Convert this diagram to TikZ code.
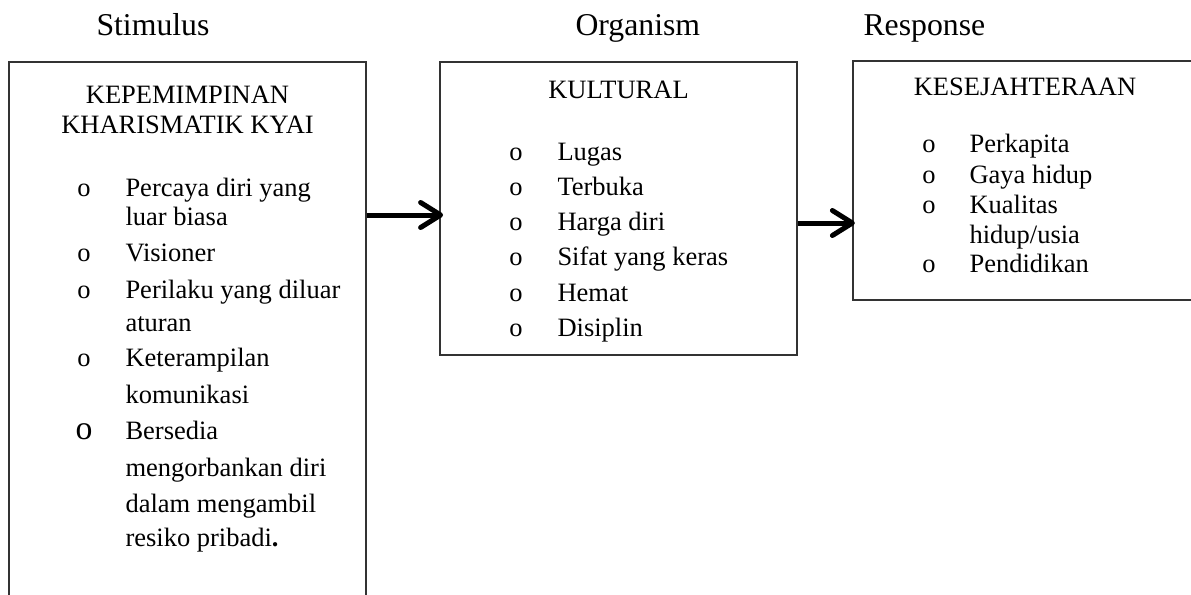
\documentclass[tikz,border=0pt]{standalone}
\usepackage{fontspec}
\setmainfont{Liberation Serif}
\usetikzlibrary{arrows.meta}
\tikzset{
  box/.style={draw=black!80, line width=0.5pt, rectangle, inner sep=0pt},
  txt/.style={inner sep=0pt, font=\fontsize{10.6}{12}\selectfont},
  ttl/.style={inner sep=0pt, font=\fontsize{12.7}{15}\selectfont, anchor=base west},
  hd/.style={txt, anchor=base},
  bul/.style={txt, anchor=base},
  itm/.style={txt, anchor=base west},
  arr/.style={line width=2pt, -{Straight Barb[length=8pt, width=10pt, line cap=round, line join=round]}}
}
\begin{document}
\begin{tikzpicture}[x=0.4pt, y=-0.4pt]
\useasboundingbox (0,0) rectangle (1191,594);
\clip (0,0) rectangle (1191,594);
% titles
\node[ttl] (tS) at (96,35) {Stimulus};
\node[ttl] (tO) at (575,35) {Organism};
\node[ttl] (tR) at (863,35) {Response};
% boxes
\node[box, minimum width=142.8pt, minimum height=223.2pt] (b1) at (187.5,341) {};
\node[box, minimum width=142.8pt, minimum height=117.2pt] (b2) at (618.5,208.5) {};
\node[box, minimum width=140.8pt, minimum height=95.6pt] (b3) at (1029,180.5) {};
% box 1
\node[hd] (h1a) at (187.5,103) {KEPEMIMPINAN};
\node[hd] (h1b) at (187.5,133) {KHARISMATIK KYAI};
\node[bul] (o11) at (84,196) {o};
\node[itm] (i11) at (125,196) {Percaya diri yang};
\node[itm] (i11b) at (125,225) {luar biasa};
\node[bul] (o12) at (84,261) {o};
\node[itm] (i12) at (125,261) {Visioner};
\node[bul] (o13) at (84,298) {o};
\node[itm] (i13) at (125,298) {Perilaku yang diluar};
\node[itm] (i13b) at (125,331) {aturan};
\node[bul] (o14) at (84,366) {o};
\node[itm] (i14) at (125,366) {Keterampilan};
\node[itm] (i14b) at (125,403) {komunikasi};
\node[bul, font=\fontsize{13.5}{14}\selectfont] (o15) at (84,439) {o};
\node[itm] (i15) at (125,439) {Bersedia};
\node[itm] (i15b) at (125,476) {mengorbankan diri};
\node[itm] (i15c) at (125,512) {dalam mengambil};
\node[itm] (i15d) at (125,546) {resiko pribadi\textbf{.}};
% box 2
\node[hd] (h2) at (618.5,98) {KULTURAL};
\node[bul] (o21) at (516,160) {o};
\node[itm] (i21) at (557,160) {Lugas};
\node[bul] (o22) at (516,195) {o};
\node[itm] (i22) at (557,195) {Terbuka};
\node[bul] (o23) at (516,230) {o};
\node[itm] (i23) at (557,230) {Harga diri};
\node[bul] (o24) at (516,265) {o};
\node[itm] (i24) at (557,265) {Sifat yang keras};
\node[bul] (o25) at (516,301) {o};
\node[itm] (i25) at (557,301) {Hemat};
\node[bul] (o26) at (516,336) {o};
\node[itm] (i26) at (557,336) {Disiplin};
% box 3
\node[hd] (h3) at (1025,95) {KESEJAHTERAAN};
\node[bul] (o31) at (929,152) {o};
\node[itm] (i31) at (969,152) {Perkapita};
\node[bul] (o32) at (929,183) {o};
\node[itm] (i32) at (969,183) {Gaya hidup};
\node[bul] (o33) at (929,213) {o};
\node[itm] (i33) at (969,213) {Kualitas};
\node[itm] (i33b) at (969,243) {hidup/usia};
\node[bul] (o34) at (929,272) {o};
\node[itm] (i34) at (969,272) {Pendidikan};
% arrows
\coordinate (ya) at (0,215);
\coordinate (yb) at (0,223);
\draw[arr, shorten >=-1.5pt] (b1.east |- ya) -- (b2.west |- ya);
\draw[arr, shorten >=-1pt] (b2.east |- yb) -- (b3.west |- yb);
\end{tikzpicture}
\end{document}
